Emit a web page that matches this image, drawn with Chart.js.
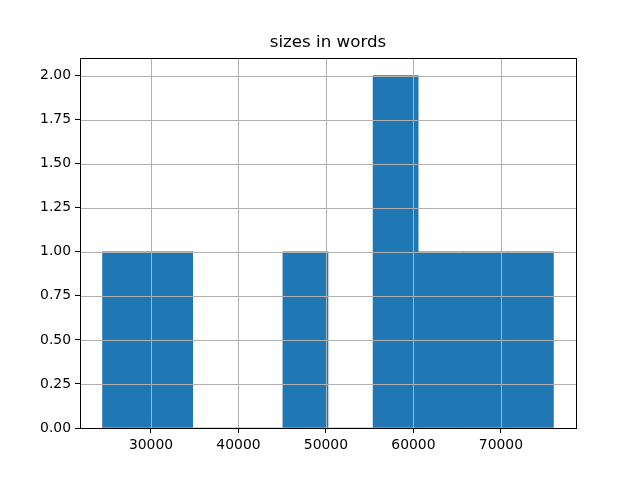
<!DOCTYPE html>
<html>
<head>
<meta charset="utf-8">
<script src="https://cdn.jsdelivr.net/npm/chart.js@4.4.1/dist/chart.umd.min.js"></script>
<style>
  html, body { margin: 0; padding: 0; background: #fff; }
  #wrap { width: 640px; height: 480px; }
</style>
</head>
<body>
<div id="wrap"><canvas id="hist" width="640" height="480"></canvas></div>
<script>
// histogram bins (10 equal bins)
const binEdges = [24464, 29618, 34772, 39926, 45080, 50234, 55388, 60542, 65696, 70850, 76006];
const counts = [1, 1, 0, 0, 1, 0, 2, 1, 1, 1];
const xTicks = [30000, 40000, 50000, 60000, 70000];
const yTicks = [0, 0.25, 0.5, 0.75, 1.0, 1.25, 1.5, 1.75, 2.0];
const xRange = [21887, 78583];
const yRange = [0, 2.1];

const BLUE = '#1f77b4';
const GRID = '#b0b0b0';

const bars = counts.map((c, i) => ({ x: (binEdges[i] + binEdges[i + 1]) / 2, y: c }));

// grid is drawn above the bars, like pandas' hist, plus the full axes frame
const overGrid = {
    id: 'overGrid',
    afterDatasetsDraw(chart) {
        const { ctx, chartArea: a, scales: { x, y } } = chart;
        ctx.save();
        ctx.strokeStyle = GRID;
        ctx.lineWidth = 1;
        ctx.beginPath();
        xTicks.forEach(v => {
            const p = Math.round(x.getPixelForValue(v)) + 0.5;
            ctx.moveTo(p, a.top); ctx.lineTo(p, a.bottom);
        });
        yTicks.forEach(v => {
            const p = Math.round(y.getPixelForValue(v)) + 0.5;
            ctx.moveTo(a.left, p); ctx.lineTo(a.right, p);
        });
        ctx.stroke();
        ctx.strokeStyle = '#000';
        ctx.strokeRect(Math.round(a.left) + 0.5, Math.round(a.top) + 0.5,
            Math.round(a.right - a.left), Math.round(a.bottom - a.top));
        ctx.restore();
    }
};

const tickFont = { family: 'DejaVu Sans', size: 13.9 };

new Chart(document.getElementById('hist'), {
    type: 'bar',
    data: {
        datasets: [{
            data: bars,
            backgroundColor: BLUE,
            borderWidth: 0,
            barPercentage: 1,
            categoryPercentage: 1
        }]
    },
    options: {
        responsive: false,
        animation: false,
        events: [],
        layout: { padding: { left: 0, right: 64, top: 0, bottom: 0 } },
        plugins: {
            legend: { display: false },
            tooltip: { enabled: false },
            title: {
                display: true,
                text: 'sizes in words',
                fullSize: false,
                color: '#000',
                font: { family: 'DejaVu Sans', size: 16.7, weight: 'normal', lineHeight: 1.2 },
                padding: { top: 33, bottom: 5 }
            }
        },
        scales: {
            x: {
                type: 'linear',
                min: xRange[0],
                max: xRange[1],
                offset: false,
                afterBuildTicks: s => { s.ticks = xTicks.map(v => ({ value: v })); },
                afterFit: s => { s.height = 52; },
                grid: { drawOnChartArea: false, offset: false, tickColor: '#000', tickLength: 5, tickWidth: 1 },
                border: { display: true, color: '#000', width: 1 },
                ticks: { color: '#000', font: tickFont, padding: 4, maxRotation: 0, callback: v => String(v) }
            },
            y: {
                min: yRange[0],
                max: yRange[1],
                afterBuildTicks: s => { s.ticks = yTicks.map(v => ({ value: v })); },
                afterFit: s => { s.width = 80; },
                grid: { drawOnChartArea: false, tickColor: '#000', tickLength: 5, tickWidth: 1 },
                border: { display: true, color: '#000', width: 1 },
                ticks: { color: '#000', font: tickFont, padding: 4, callback: v => Number(v).toFixed(2) }
            }
        }
    },
    plugins: [overGrid]
});
</script>
</body>
</html>
